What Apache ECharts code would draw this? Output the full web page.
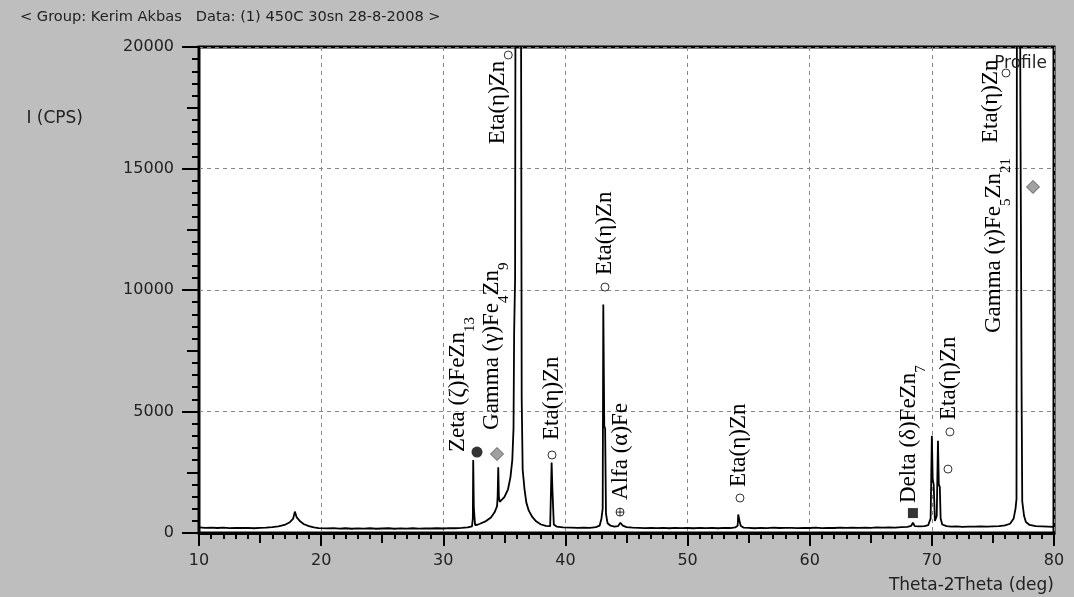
<!DOCTYPE html>
<html>
<head>
<meta charset="utf-8">
<script src="https://cdn.jsdelivr.net/npm/echarts@6/dist/echarts.min.js"></script>
<style>
html, body { margin: 0; padding: 0; background: #bebebe; }
#chart { width: 1074px; height: 597px; }
</style>
</head>
<body>
<div id="chart"></div>
<script>
// XRD scan: 2theta (deg) and intensity (cps)
const scanAngle = [
  10.0, 10.5, 11.0, 11.5, 12.0, 12.5, 13.0, 13.5, 14.0, 14.5, 15.0, 15.5, 16.0, 16.5, 17.0, 17.4, 17.7, 17.85, 18.0, 18.3,
  18.6, 19.0, 19.4, 19.8, 20.5, 21.0, 21.5, 22.0, 22.5, 23.0, 23.5, 24.0, 24.5, 25.0, 25.5, 26.0, 26.5, 27.0, 27.5, 28.0,
  28.5, 29.0, 29.5, 30.0, 30.5, 31.0, 31.5, 32.0, 32.35, 32.42, 32.45, 32.5, 32.56, 32.6, 32.8, 33.0, 33.5, 33.9, 34.2, 34.4,
  34.45, 34.5, 34.55, 34.62, 34.75, 35.0, 35.3, 35.5, 35.65, 35.75, 35.8, 35.88, 35.92, 36.35, 36.42, 36.5, 36.65, 36.8, 37.0, 37.3,
  37.6, 38.0, 38.4, 38.75, 38.82, 38.87, 38.93, 38.99, 39.05, 39.3, 39.8, 40.5, 41.0, 41.5, 42.0, 42.5, 42.8, 42.95, 43.05, 43.1,
  43.18, 43.25, 43.32, 43.45, 43.7, 44.0, 44.3, 44.5, 44.7, 45.0, 45.5, 46.0, 46.5, 47.0, 47.5, 48.0, 48.5, 49.0, 49.5, 50.0,
  50.5, 51.0, 51.5, 52.0, 52.5, 53.0, 53.5, 53.9, 54.1, 54.15, 54.25, 54.35, 54.6, 55.0, 55.5, 56.0, 56.5, 57.0, 57.5, 58.0,
  58.5, 59.0, 59.5, 60.0, 60.5, 61.0, 61.5, 62.0, 62.5, 63.0, 63.5, 64.0, 64.5, 65.0, 65.5, 66.0, 66.5, 67.0, 67.5, 68.0,
  68.3, 68.45, 68.6, 69.0, 69.4, 69.7, 69.9, 70.0, 70.07, 70.15, 70.25, 70.4, 70.5, 70.57, 70.65, 70.72, 70.85, 71.2, 71.6, 72.0,
  72.5, 73.0, 73.5, 74.0, 74.5, 75.0, 75.5, 76.0, 76.4, 76.7, 76.85, 76.93, 76.97, 77.2, 77.25, 77.3, 77.35, 77.4, 77.55, 77.7,
  78.0, 78.5, 79.0, 79.5, 80.0
];
const scanCps = [
  230, 210, 225, 205, 220, 200, 215, 205, 210, 195, 215, 225, 240, 270, 330, 430, 580, 880, 640, 470,
  360, 280, 230, 200, 190, 200, 180, 195, 175, 190, 180, 195, 175, 185, 195, 175, 190, 180, 195, 180,
  190, 185, 195, 185, 200, 195, 210, 230, 270, 600, 3000, 1070, 1050, 330, 340, 380, 490, 640, 850, 1100,
  1500, 2700, 1500, 1280, 1250, 1480, 1800, 2300, 3000, 4300, 8200, 10500, 26000, 26000, 5500, 2600, 1800, 1250, 920, 650,
  480, 350, 290, 280, 330, 2900, 1850, 1800, 350, 260, 230, 220, 210, 220, 215, 240, 300, 600, 1000, 9400,
  4400, 4300, 800, 400, 300, 260, 280, 420, 300, 240, 220, 215, 200, 215, 200, 210, 195, 210, 200, 205,
  195, 215, 200, 210, 195, 215, 205, 230, 300, 760, 500, 300, 220, 210, 195, 215, 200, 220, 205, 210,
  215, 200, 215, 205, 220, 200, 215, 205, 220, 210, 225, 210, 225, 215, 230, 220, 235, 225, 240, 250,
  290, 420, 280, 270, 280, 320, 600, 4000, 2200, 2000, 500, 700, 3800, 2000, 1900, 600, 350, 280, 260, 270,
  255, 265, 260, 270, 265, 275, 280, 310, 380, 600, 1000, 1400, 26000, 26000, 17500, 11600, 5500, 1300, 700, 450,
  330, 280, 270, 260, 250
];

// phase markers
const markAngle = [32.76, 34.40, 35.32, 38.90, 43.24, 44.47, 54.29, 68.45, 71.32, 71.48, 76.07, 78.28];
const markCps = [3330, 3250, 19670, 3210, 10120, 860, 1440, 820, 2630, 4160, 18930, 14240];
const markKind = ['zeta', 'gamma', 'eta', 'eta', 'eta', 'alfa', 'eta', 'delta', 'eta', 'eta', 'eta', 'gamma'];

// phase labels (text start point)
const labelAngle = [31.20, 33.99, 34.48, 38.90, 43.24, 44.55, 54.21, 68.13, 71.40, 75.09, 74.84];
const labelCps = [3330, 4240, 16000, 3830, 10620, 1360, 1890, 1230, 4650, 8230, 16050];
const labelText = [
  '{n|Zeta (ζ)FeZn}{s|13}',
  '{n|Gamma (γ)Fe}{s|4}{n|Zn}{s|9}',
  '{n|Eta(η)Zn}',
  '{n|Eta(η)Zn}',
  '{n|Eta(η)Zn}',
  '{n|Alfa (α)Fe}',
  '{n|Eta(η)Zn}',
  '{n|Delta (δ)FeZn}{s|7}',
  '{n|Eta(η)Zn}',
  '{n|Gamma (γ)Fe}{s|5}{n|Zn}{s|21}',
  '{n|Eta(η)Zn}'
];

const xMin = 10, xMax = 80, xStep = 10;
const yMin = 0, yMax = 20000, yStep = 5000;

const sans = 'DejaVu Sans';
const serif = 'Liberation Serif';

const markerStyle = {
  eta: { symbol: 'circle', symbolSize: 8, itemStyle: { color: '#fff', borderColor: '#000', borderWidth: 1 } },
  zeta: { symbol: 'circle', symbolSize: 11, itemStyle: { color: '#000' } },
  gamma: { symbol: 'diamond', symbolSize: 13, itemStyle: { color: '#8a8a8a', borderColor: '#444', borderWidth: 1 } },
  delta: { symbol: 'rect', symbolSize: 10, itemStyle: { color: '#000' } },
  alfa: {
    symbol: 'path://M0,-5A5,5 0 1,1 0,5A5,5 0 1,1 0,-5ZM-5,0L5,0M0,-5L0,5',
    symbolSize: 8,
    itemStyle: { color: '#fff', borderColor: '#000', borderWidth: 1 }
  }
};

const chart = echarts.init(document.getElementById('chart'));

const option = {
  animation: false,
  backgroundColor: '#bebebe',
  title: {
    text: '< Group: Kerim Akbas   Data: (1) 450C 30sn 28-8-2008 >',
    left: 20, top: 10, padding: 0,
    textStyle: { fontFamily: sans, fontSize: 14.6, fontWeight: 'normal', color: '#222' }
  },
  legend: {
    data: [{ name: 'Profile', icon: 'none' }],
    right: 22, top: 50, itemWidth: 0, itemGap: 0,
    selectedMode: false,
    textStyle: { fontFamily: sans, fontSize: 17, color: '#222', padding: 0 }
  },
  grid: {
    left: 199, right: 20, top: 47, bottom: 64,
    show: true, backgroundColor: '#fff', borderColor: '#000', borderWidth: 3
  },
  xAxis: [{
    type: 'value', min: xMin, max: xMax, interval: xStep,
    name: 'Theta-2Theta (deg)', nameLocation: 'end', nameGap: 0,
    nameTextStyle: { fontFamily: sans, fontSize: 17, color: '#222', align: 'right', verticalAlign: 'top', padding: [44, 0, 0, 0] },
    axisLine: { lineStyle: { color: '#000', width: 3 } },
    axisTick: { length: 13, lineStyle: { color: '#000', width: 2 } },
    minorTick: { show: true, splitNumber: 10, length: 6, lineStyle: { color: '#000', width: 2 } },
    axisLabel: { margin: 20, fontFamily: sans, fontSize: 16, color: '#222' },
    splitLine: { show: true, lineStyle: { color: '#888', type: [4, 4], width: 1 } }
  }, {
    type: 'value', min: xMin, max: xMax, interval: xStep / 2, position: 'bottom',
    axisLine: { show: false },
    axisTick: { length: 10, lineStyle: { color: '#000', width: 2 } },
    axisLabel: { show: false },
    splitLine: { show: false }
  }],
  yAxis: [{
    type: 'value', min: yMin, max: yMax, interval: yStep,
    name: 'I (CPS)', nameLocation: 'end', nameGap: -72,
    nameTextStyle: { fontFamily: sans, fontSize: 17, color: '#222', align: 'right', verticalAlign: 'middle', padding: [0, 116, 0, 0] },
    axisLine: { show: true, lineStyle: { color: '#000', width: 2 } },
    axisTick: { show: true, length: 17, lineStyle: { color: '#000', width: 2 } },
    minorTick: { show: true, splitNumber: 10, length: 7, lineStyle: { color: '#000', width: 2 } },
    axisLabel: { margin: 25, fontFamily: sans, fontSize: 16, color: '#222', formatter: v => String(v) },
    splitLine: { show: true, lineStyle: { color: '#888', type: [4, 4], width: 1 } }
  }, {
    type: 'value', min: yMin, max: yMax, interval: yStep / 2, position: 'left',
    axisLine: { show: false },
    axisTick: { show: true, length: 12, lineStyle: { color: '#000', width: 2 } },
    axisLabel: { show: false },
    splitLine: { show: false }
  }],
  series: [{
    name: 'Profile',
    type: 'line',
    data: scanAngle.map((a, i) => [a, scanCps[i]]),
    showSymbol: false,
    symbol: 'none',
    clip: true,
    lineStyle: { color: '#000', width: 1.8 },
    itemStyle: { color: '#000' },
    z: 3
  }, {
    name: 'markers',
    type: 'scatter',
    data: markAngle.map((a, i) => Object.assign({ value: [a, markCps[i]] }, markerStyle[markKind[i]])),
    silent: true,
    z: 4
  }, {
    name: 'labels',
    type: 'custom',
    data: labelAngle.map((a, i) => [a, labelCps[i]]),
    silent: true,
    z: 5,
    renderItem: function (params, api) {
      const p = api.coord([api.value(0), api.value(1)]);
      return {
        type: 'text',
        x: p[0],
        y: p[1],
        rotation: Math.PI / 2,
        style: {
          text: labelText[params.dataIndex],
          align: 'left',
          verticalAlign: 'middle',
          rich: {
            n: { fontFamily: serif, fontSize: 23, lineHeight: 40, fill: '#000', verticalAlign: 'middle' },
            s: { fontFamily: serif, fontSize: 15, lineHeight: 16, fill: '#000', verticalAlign: 'bottom' }
          }
        }
      };
    }
  }]
};

chart.setOption(option);
</script>
</body>
</html>
